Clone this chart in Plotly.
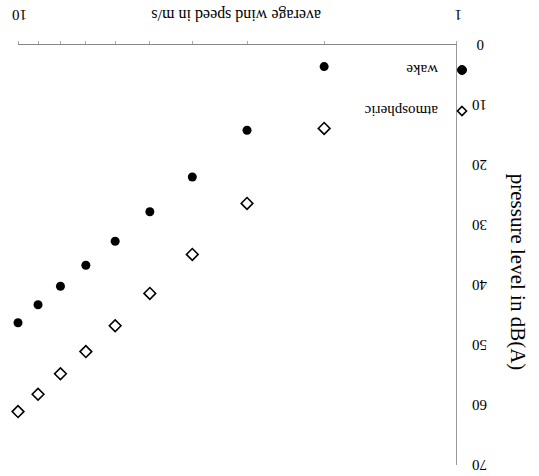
import math
import plotly.graph_objects as go

# Average wind speed (m/s) and the sound pressure level measured for each regime
wind_speed = [2, 3, 4, 5, 6, 7, 8, 9, 10]
wake_level = [3.6, 14.2, 22.0, 27.8, 32.7, 36.7, 40.2, 43.3, 46.3]
atmospheric_level = [13.9, 26.4, 34.9, 41.4, 46.8, 51.1, 54.8, 58.2, 61.1]

x_tick_values = [1, 2, 3, 4, 5, 6, 7, 8, 9, 10]
x_label_values = [1, 10]
y_tick_values = [0, 10, 20, 30, 40, 50, 60, 70]

SERIF = "Liberation Serif, Times New Roman, serif"

fig = go.Figure()
fig.add_trace(go.Scatter(
    x=wind_speed, y=wake_level, mode="markers", name="wake", cliponaxis=False,
    marker=dict(symbol="circle", size=9, color="black"),
))
fig.add_trace(go.Scatter(
    x=wind_speed, y=atmospheric_level, mode="markers", name="atmospheric",
    cliponaxis=False,
    marker=dict(symbol="diamond-open", size=9, color="black",
                line=dict(width=1.6, color="black")),
))

fig.update_layout(
    width=539, height=476,
    margin=dict(l=18, r=83, t=45, b=11),
    paper_bgcolor="white", plot_bgcolor="white",
    showlegend=False,
    font=dict(family=SERIF, size=15, color="black"),
)

# The whole figure is drawn turned half a revolution: axes reversed, labels upside down
fig.update_xaxes(
    type="log", range=[1, 0], side="top", automargin=False,
    tickvals=x_tick_values, showticklabels=False,
    ticks="outside", ticklen=3, tickcolor="#aaa",
    showline=True, linecolor="#888", linewidth=1,
    showgrid=False, zeroline=False,
)
fig.update_yaxes(
    range=[70, 0], side="right", automargin=False,
    tickvals=y_tick_values, showticklabels=False,
    ticks="", showline=True, linecolor="#999", linewidth=1,
    showgrid=False, zeroline=False,
)

# Upside-down value labels along both axes
for v in x_label_values:
    fig.add_annotation(
        text=str(v), xref="x", yref="paper", x=math.log10(v), y=1.0,
        xshift=2, yshift=30, xanchor="center", yanchor="middle",
        textangle=180, showarrow=False, font=dict(family=SERIF, size=15),
    )
for v in y_tick_values:
    fig.add_annotation(
        text=str(v), xref="paper", yref="y", x=1.0, xshift=24, y=v,
        xanchor="center", yanchor="middle", textangle=180, showarrow=False,
        font=dict(family=SERIF, size=15),
    )

# Axis titles
fig.add_annotation(
    text="average wind speed in m/s", xref="paper", yref="paper",
    x=0.483, xshift=7, y=1.0, yshift=30, xanchor="center", yanchor="middle",
    textangle=180, showarrow=False,
    font=dict(family=SERIF, size=16),
)
fig.add_annotation(
    text="pressure level in dB(A)", xref="paper", yref="paper",
    x=1.0, xshift=62, y=0.46, xanchor="center", yanchor="middle",
    textangle=90, showarrow=False,
    font=dict(family=SERIF, size=21),
)

# Key: marker to the right of each upside-down label
key_x = (462 - 18) / 438
for label, py, symbol in [("wake", 70, "circle"), ("atmospheric", 111, "diamond")]:
    ky = (465 - py) / 420
    if symbol == "circle":
        fig.add_shape(type="circle", xref="paper", yref="paper",
                      xsizemode="pixel", ysizemode="pixel",
                      xanchor=key_x, yanchor=ky, x0=-4.5, x1=4.5, y0=-4.5, y1=4.5,
                      fillcolor="black", line=dict(color="black", width=1))
    else:
        fig.add_shape(type="path", xref="paper", yref="paper",
                      xsizemode="pixel", ysizemode="pixel",
                      xanchor=key_x, yanchor=ky,
                      path="M0,4.5 L4.5,0 L0,-4.5 L-4.5,0 Z",
                      fillcolor="white", line=dict(color="black", width=1.6))
    fig.add_annotation(
        text=label, xref="paper", yref="paper",
        x=(440 - 18) / 438, y=ky, xanchor="right", yanchor="middle",
        textangle=180, showarrow=False,
        font=dict(family=SERIF, size=15),
    )

fig.write_html("out.html")
